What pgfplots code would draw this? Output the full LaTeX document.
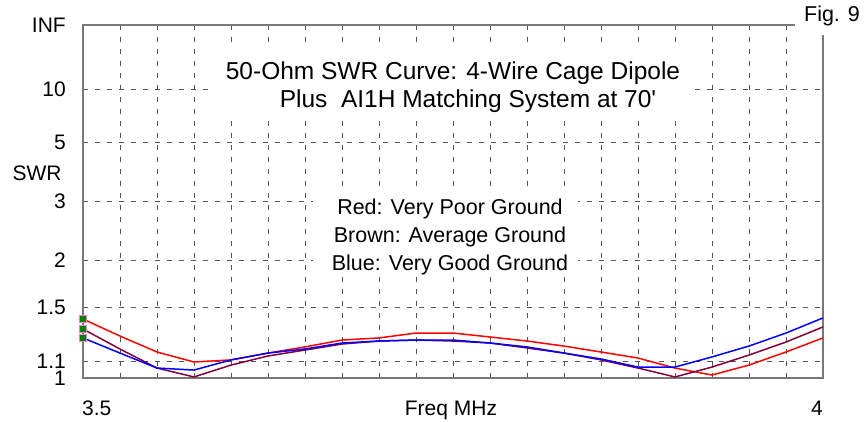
\documentclass[border=0pt]{standalone}
\usepackage{pgfplots}
\pgfplotsset{compat=1.18}
\usepackage{pgfplotstable}
\usepackage{fontspec}
\setmainfont{Liberation Sans}

\definecolor{swrred}{RGB}{255,0,0}
\definecolor{swrblue}{RGB}{0,0,255}
\definecolor{swrbrown}{RGB}{128,0,64}
\definecolor{framec}{RGB}{120,120,120}
\definecolor{gridc}{RGB}{85,85,85}
\definecolor{markc}{RGB}{0,128,0}

% SWR, every 25 kHz
\pgfplotstableread{
f      red    brown  blue
3.500  1.401  1.322  1.256
3.525  1.270  1.179  1.152
3.550  1.159  1.058  1.058
3.575  1.095  1.006  1.046
3.600  1.108  1.076  1.108
3.625  1.152  1.133  1.152
3.650  1.193  1.172  1.179
3.675  1.241  1.213  1.220
3.700  1.256  1.234  1.234
3.725  1.292  1.241  1.241
3.750  1.292  1.234  1.241
3.775  1.263  1.220  1.220
3.800  1.234  1.186  1.193
3.825  1.199  1.152  1.152
3.850  1.159  1.108  1.114
3.875  1.120  1.058  1.064
3.900  1.058  1.006  1.064
3.925  1.017  1.064  1.127
3.950  1.076  1.139  1.199
3.975  1.159  1.227  1.292
4.000  1.256  1.338  1.410
}\swr

\begin{document}
\begin{tikzpicture}
  \begin{axis}[
    name=ax,
    at={(0,0)}, anchor=south west,
    scale only axis,
    width=740pt, height=353pt,
    xmin=3.5, xmax=4,
    ymin=0, ymax=1,
    % vertical scale is reflection coefficient, labelled in SWR
    xtick={3.525,3.55,...,3.98},
    xticklabels={},
    ytick={0.047619,0.2,0.333333,0.5,0.666667,0.818182},
    yticklabels={1.1,1.5,2,3,5,10},
    extra y ticks={0,1},
    extra y tick labels={1,INF},
    extra y tick style={grid=none},
    grid=major,
    major grid style={gridc, dash pattern=on 5pt off 7pt, line width=0.9pt},
    major tick length=0pt,
    axis line style={framec, line width=1.6pt},
    yticklabel style={font=\fontsize{21}{24}\selectfont, anchor=east, inner sep=0pt, xshift=-17pt},
    clip=false,
  ]
  \addplot[swrred, line width=1.5pt] table[x=f, y expr={(\thisrow{red}-1)/(\thisrow{red}+1)}] {\swr};
  \addplot[swrbrown, line width=1.5pt] table[x=f, y expr={(\thisrow{brown}-1)/(\thisrow{brown}+1)}] {\swr};
  \addplot[swrblue, line width=1.5pt] table[x=f, y expr={(\thisrow{blue}-1)/(\thisrow{blue}+1)}] {\swr};
  % source markers at the band edge
  \addplot[only marks, mark=square*, mark size=3.3pt, mark options={fill=markc, draw=magenta!50, line width=0.6pt}]
    coordinates {(3.5,0.16708) (3.5,0.13903) (3.5,0.11332)};
  \end{axis}

  % white boxes with text over the grid
  \fill[white] (125pt,258pt) rectangle (612pt,331pt);
  \node[anchor=base, inner sep=0pt, font=\fontsize{24.5}{28}\selectfont] at (370pt,298pt)
    {50-Ohm SWR Curve: 4-Wire Cage Dipole};
  \node[anchor=base, inner sep=0pt, font=\fontsize{24.5}{28}\selectfont] at (385pt,270pt)
    {Plus\ \ AI1H Matching System at 70\textquotesingle};

  \fill[white] (230pt,102pt) rectangle (495pt,190pt);
  \node[anchor=base, inner sep=0pt, font=\fontsize{21.5}{25}\selectfont] at (367pt,164pt) {Red: Very Poor Ground};
  \node[anchor=base, inner sep=0pt, font=\fontsize{21.5}{25}\selectfont] at (367pt,136pt) {Brown: Average Ground};
  \node[anchor=base, inner sep=0pt, font=\fontsize{21.5}{25}\selectfont] at (367pt,108pt) {Blue: Very Good Ground};

  % axis texts
  \node[inner sep=0pt, font=\fontsize{21}{24}\selectfont] at (-46pt,205pt) {SWR};
  \node[anchor=base west, inner sep=0pt, font=\fontsize{21}{24}\selectfont] at (-1pt,-37pt) {3.5};
  \node[anchor=base east, inner sep=0pt, font=\fontsize{21}{24}\selectfont] at (740pt,-37pt) {4};
  \node[anchor=base, inner sep=0pt, font=\fontsize{21}{24}\selectfont] at (368pt,-37pt) {Freq MHz};

  \fill[white] (712pt,343pt) rectangle (782pt,378pt);
  \node[inner sep=0pt, font=\fontsize{21.5}{25}\selectfont] at (749pt,362pt) {Fig. 9};

  \pgfresetboundingbox
  \path (-83pt,-43pt) rectangle (782pt,378pt);
\end{tikzpicture}
\end{document}
